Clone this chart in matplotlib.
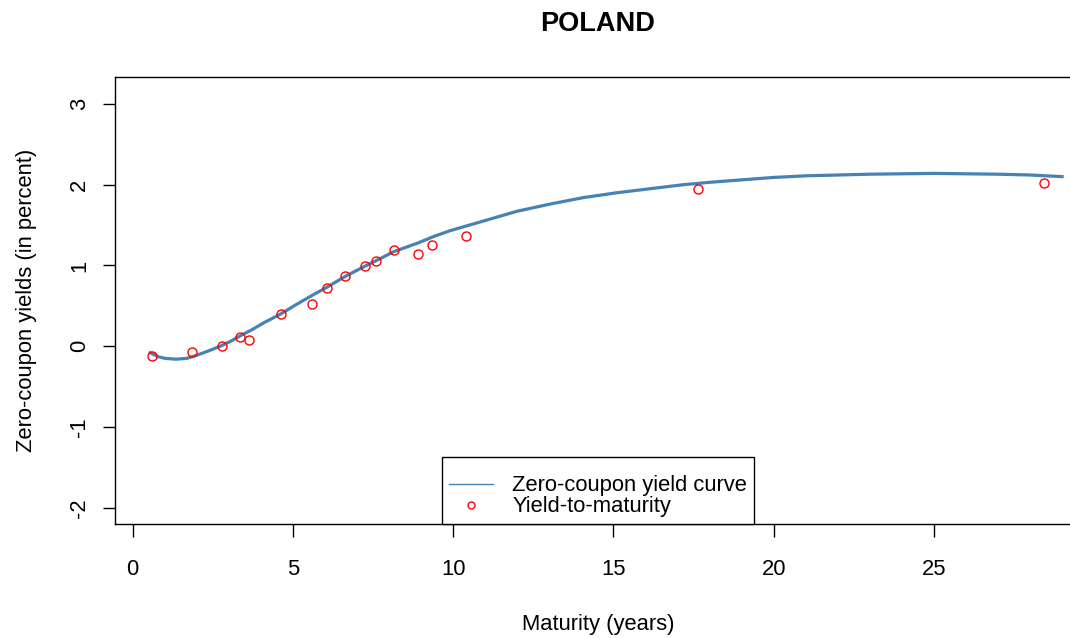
import matplotlib
matplotlib.use("Agg")
from matplotlib import pyplot as plt
from matplotlib.lines import Line2D

plt.rcParams["font.family"] = ["Liberation Sans", "DejaVu Sans"]
plt.rcParams["axes.unicode_minus"] = False

# yield-to-maturity of the bonds
maturity = [0.59, 1.86, 2.78, 3.35, 3.64, 4.62, 5.60, 6.06, 6.61, 7.24,
            7.60, 8.14, 8.91, 9.35, 10.40, 17.63, 28.44]
ytm = [-0.12, -0.07, 0.00, 0.11, 0.08, 0.40, 0.52, 0.72, 0.87, 0.99,
       1.05, 1.19, 1.14, 1.25, 1.37, 1.95, 2.02]

# fitted zero-coupon curve
curve_t = [0.55, 0.8, 1.02, 1.35, 1.69, 2.01, 2.35, 2.73, 3.05, 3.36, 3.7,
           4.09, 4.62, 5.12, 5.60, 6.06, 6.61, 7.24, 7.7, 8.14, 8.91, 9.40,
           9.90, 10.94, 11.98, 13.02, 14.06, 15.10, 16.14, 17.18, 18.01,
           19.0, 20.0, 21.0, 22.0, 23.0, 24.0, 25.0, 26.0, 27.0, 28.0, 29.0]
curve_y = [-0.08, -0.13, -0.15, -0.16, -0.15, -0.11, -0.06, 0.00, 0.06,
           0.13, 0.20, 0.29, 0.40, 0.52, 0.63, 0.73, 0.86, 0.99, 1.08, 1.17,
           1.28, 1.36, 1.43, 1.55, 1.67, 1.76, 1.84, 1.90, 1.95, 2.00, 2.03,
           2.06, 2.09, 2.11, 2.12, 2.13, 2.135, 2.14, 2.135, 2.13, 2.12, 2.10]

xticks = [0, 5, 10, 15, 20, 25]
yticks = [-2, -1, 0, 1, 2, 3]

fig = plt.figure(figsize=(10.7, 6.38), dpi=100)
ax = fig.add_axes([0.1075, 0.1787, 0.9028, 0.7002])

ax.plot(curve_t, curve_y, color="steelblue", lw=2.3, zorder=2)
ax.plot(maturity, ytm, "o", mfc="none", mec="red", ms=6.5, mew=1.0, zorder=3)

ax.set_xlim(-0.55, 29.59)
ax.set_ylim(-2.20, 3.33)
ax.set_xticks(xticks)
ax.set_yticks(yticks)
ax.tick_params(axis="both", direction="out", length=9, width=1,
               labelsize=15.8, colors="black")
ax.tick_params(axis="x", pad=16)
ax.tick_params(axis="y", pad=9)
for lab in ax.get_yticklabels():
    lab.set_rotation(90)
    lab.set_va("center")
for s in ax.spines.values():
    s.set_linewidth(1)
    s.set_color("black")

ax.set_title("POLAND", fontsize=19.5, fontweight="bold", pad=33)
ax.set_xlabel("Maturity (years)", fontsize=15.8, labelpad=25)
ax.set_ylabel("Zero-coupon yields (in percent)", fontsize=15.8, labelpad=23)

handles = [Line2D([], [], color="steelblue", lw=1),
           Line2D([], [], ls="none", marker="o", mfc="none", mec="red",
                  ms=5, mew=1)]
leg = ax.legend(handles, ["Zero-coupon yield curve", "Yield-to-maturity"],
                loc="lower center", bbox_to_anchor=(0.5, 0), borderaxespad=0,
                fontsize=15.8, frameon=True, fancybox=False, framealpha=1,
                edgecolor="black", labelspacing=0.0, handlelength=2.0,
                handletextpad=0.9, borderpad=0.3,
                title=" ", title_fontsize=9.5)
leg.get_frame().set_linewidth(1)

plt.savefig("out.png", dpi=100)
